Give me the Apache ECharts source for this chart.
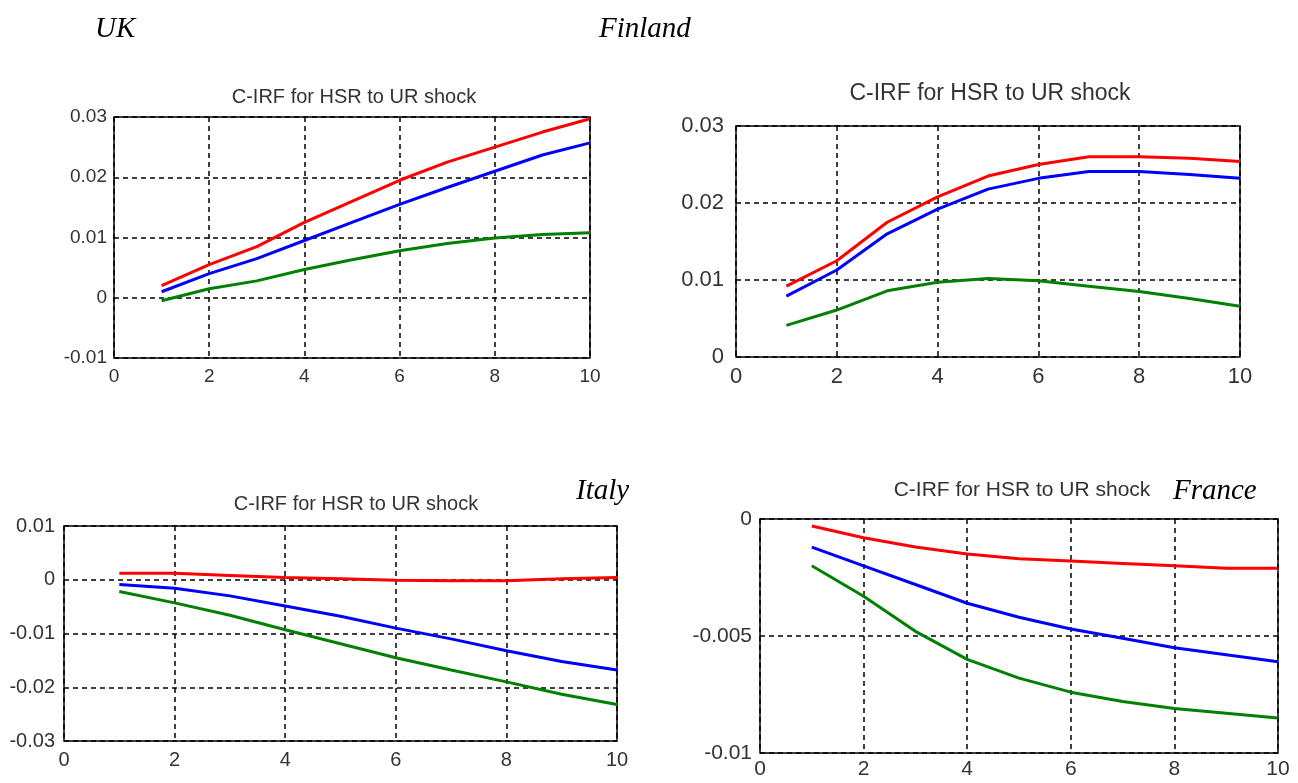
<!DOCTYPE html>
<html>
<head>
<meta charset="utf-8">
<script src="https://cdn.jsdelivr.net/npm/echarts@6/dist/echarts.min.js"></script>
<style>
  html, body { margin: 0; padding: 0; background: #fff; }
  #main { width: 1298px; height: 783px; }
</style>
</head>
<body>
<div id="main"></div>
<script>
// horizon 1..10
var periods = [1, 2, 3, 4, 5, 6, 7, 8, 9, 10];

// UK
var ukRed   = [0.0020, 0.0055, 0.0085, 0.0125, 0.0160, 0.0195, 0.0225, 0.0250, 0.0275, 0.0297];
var ukBlue  = [0.0010, 0.0040, 0.0065, 0.0095, 0.0125, 0.0155, 0.0183, 0.0210, 0.0237, 0.0257];
var ukGreen = [-0.0005, 0.0015, 0.0028, 0.0047, 0.0063, 0.0078, 0.0090, 0.0099, 0.0105, 0.0108];

// Finland
var fiRed   = [0.0092, 0.0125, 0.0175, 0.0208, 0.0235, 0.0250, 0.0260, 0.0260, 0.0258, 0.0254];
var fiBlue  = [0.0079, 0.0113, 0.0160, 0.0192, 0.0218, 0.0232, 0.0241, 0.0241, 0.0237, 0.0232];
var fiGreen = [0.0041, 0.0061, 0.0086, 0.0097, 0.0102, 0.0099, 0.0092, 0.0085, 0.0076, 0.0066];

// Italy
var itRed   = [0.0012, 0.0012, 0.0008, 0.0004, 0.0002, -0.0001, -0.0002, -0.0002, 0.0002, 0.0004];
var itBlue  = [-0.0009, -0.0016, -0.0030, -0.0049, -0.0068, -0.0090, -0.0110, -0.0132, -0.0152, -0.0168];
var itGreen = [-0.0022, -0.0043, -0.0066, -0.0093, -0.0119, -0.0145, -0.0168, -0.0190, -0.0213, -0.0232];

// France
var frRed   = [-0.0003, -0.0008, -0.0012, -0.0015, -0.0017, -0.0018, -0.0019, -0.0020, -0.0021, -0.0021];
var frBlue  = [-0.0012, -0.0020, -0.0028, -0.0036, -0.0042, -0.0047, -0.0051, -0.0055, -0.0058, -0.0061];
var frGreen = [-0.0020, -0.0033, -0.0048, -0.0060, -0.0068, -0.0074, -0.0078, -0.0081, -0.0083, -0.0085];

// axis ranges: [min, max, interval]
var xTicks = [0, 10, 2];
var ukY = [-0.01, 0.03, 0.01];
var fiY = [0, 0.03, 0.01];
var itY = [-0.03, 0.01, 0.01];
var frY = [-0.01, 0, 0.005];

var chartTitle = 'C-IRF for HSR to UR shock';
var countries = ['UK', 'Finland', 'Italy', 'France'];

var panels = [
  { box: { left: 114, top: 117, width: 476, height: 241 }, y: ukY, data: [ukRed, ukBlue, ukGreen], fs: 19, ym: 7, xm: 9, tfs: 20, tx: 349, ty: 94 },
  { box: { left: 736, top: 126, width: 504, height: 231 }, y: fiY, data: [fiRed, fiBlue, fiGreen], fs: 22, ym: 12, xm: 9, tfs: 23, tx: 985, ty: 91 },
  { box: { left: 64, top: 526, width: 553, height: 215 }, y: itY, data: [itRed, itBlue, itGreen], fs: 20, ym: 9, xm: 9, tfs: 20, tx: 351, ty: 501 },
  { box: { left: 760, top: 519, width: 518, height: 234 }, y: frY, data: [frRed, frBlue, frGreen], fs: 21, ym: 8, xm: 6, tfs: 21, tx: 1017, ty: 488 }
];
var colors = ['#ff0000', '#0000ff', '#008000'];

function fmt(v) {
  return String(Math.round(v * 10000) / 10000);
}

var grids = [], xAxes = [], yAxes = [], series = [], titles = [];
panels.forEach(function (p, i) {
  grids.push({
    left: p.box.left, top: p.box.top, width: p.box.width, height: p.box.height,
    show: true, borderColor: '#000', borderWidth: 1.5, backgroundColor: '#fff'
  });
  xAxes.push({
    type: 'value', gridIndex: i, min: xTicks[0], max: xTicks[1], interval: xTicks[2],
    axisLine: { show: false }, axisTick: { show: false },
    axisLabel: { fontFamily: 'Liberation Sans', fontSize: p.fs, color: '#333', margin: p.xm },
    splitLine: { show: true, lineStyle: { color: '#000', type: [5, 4], width: 1.5 } }
  });
  yAxes.push({
    type: 'value', gridIndex: i, min: p.y[0], max: p.y[1], interval: p.y[2],
    axisLine: { show: false }, axisTick: { show: false },
    axisLabel: { fontFamily: 'Liberation Sans', fontSize: p.fs, color: '#333', margin: p.ym, formatter: fmt },
    splitLine: { show: true, lineStyle: { color: '#000', type: [5, 4], width: 1.5 } }
  });
  p.data.forEach(function (arr, k) {
    series.push({
      type: 'line', xAxisIndex: i, yAxisIndex: i, symbol: 'none',
      lineStyle: { color: colors[k], width: 3 },
      data: periods.map(function (t, j) { return [t, arr[j]]; }),
      z: 5 - k
    });
  });
  titles.push({
    text: chartTitle, left: p.tx, top: p.ty - Math.round(p.tfs * 0.6), textAlign: 'center',
    textStyle: { fontFamily: 'Liberation Sans', fontSize: p.tfs, fontWeight: 'normal', color: '#333' }
  });
});

var countryPos = [[90, 10], [594, 10], [571, 472], [1168, 472]];
countries.forEach(function (c, i) {
  titles.push({
    text: c, left: countryPos[i][0], top: countryPos[i][1],
    textStyle: { fontFamily: 'Liberation Serif', fontStyle: 'italic', fontSize: 29, fontWeight: 'normal', color: '#000' }
  });
});

var myChart = echarts.init(document.getElementById('main'));
myChart.setOption({
  animation: false,
  backgroundColor: '#fff',
  title: titles,
  grid: grids,
  xAxis: xAxes,
  yAxis: yAxes,
  series: series
});
</script>
</body>
</html>
